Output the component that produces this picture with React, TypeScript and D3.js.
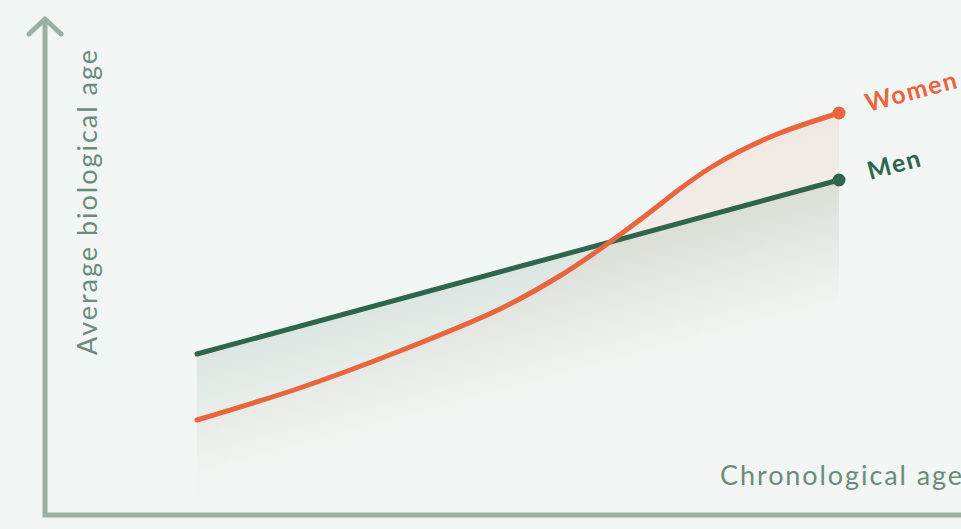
import React from "react";
import * as d3 from "d3";

const W = 961;
const H = 529;

// Chronological age (0-100 normalized) and average biological age (0-100 normalized)
const womenAge = [0, 16, 31.6, 47.2, 56.5, 62.8, 70.6, 75.2, 79.9, 84.6, 90.8, 100];
const womenBio = [19, 25.4, 32.8, 41.2, 47.8, 53.2, 60.6, 65.2, 69.4, 72.8, 76.4, 80.4];
const menAge = [0, 100];
const menBio = [32.2, 67];

const seriesLabels = ["Women", "Men"];
const axisLabels = ["Chronological age", "Average biological age"];

const ORANGE = "#e8663d";
const GREEN = "#2e654d";
const AXIS = "#9bb0a4";
const TEXT = "#6d8b7c";

export default function App() {
  const x = d3.scaleLinear().domain([0, 100]).range([197, 839]);
  const y = d3.scaleLinear().domain([0, 100]).range([515, 15]);

  const women = womenAge.map((a, i) => [a, womenBio[i]] as [number, number]);
  const men = menAge.map((a, i) => [a, menBio[i]] as [number, number]);

  const line = d3
    .line<[number, number]>()
    .x((d) => x(d[0]))
    .y((d) => y(d[1]))
    .curve(d3.curveCatmullRom.alpha(0.5));
  const area = d3
    .area<[number, number]>()
    .x((d) => x(d[0]))
    .y0(y(0))
    .y1((d) => y(d[1]))
    .curve(d3.curveCatmullRom.alpha(0.5));

  const wEnd = women[women.length - 1];
  const mEnd = men[men.length - 1];
  const font = "'Lato', 'Noto Sans', sans-serif";

  // gradient direction perpendicular to the men line
  const mx0 = x(men[0][0]), my0 = y(men[0][1]), mx1 = x(mEnd[0]), my1 = y(mEnd[1]);
  const len = Math.hypot(mx1 - mx0, my1 - my0);
  const nx = -(my1 - my0) / len, ny = (mx1 - mx0) / len; // points downward
  const cx = (mx0 + mx1) / 2, cy = (my0 + my1) / 2;
  const wx = x(wEnd[0]), wy = y(wEnd[1]);

  return (
    <svg width={W} height={H} style={{ position: "absolute", left: 0, top: 0, background: "#f1f5f3" }}>
      <defs>
        <linearGradient id="gw" gradientUnits="userSpaceOnUse" x1={wx} y1={wy} x2={wx + nx * 210} y2={wy + ny * 210}>
          <stop offset="0" stopColor={ORANGE} stopOpacity={0.1} />
          <stop offset="0.5" stopColor={ORANGE} stopOpacity={0.04} />
          <stop offset="1" stopColor={ORANGE} stopOpacity={0} />
        </linearGradient>
        <linearGradient id="gm" gradientUnits="userSpaceOnUse" x1={cx} y1={cy} x2={cx + nx * 115} y2={cy + ny * 115}>
          <stop offset="0" stopColor={GREEN} stopOpacity={0.11} />
          <stop offset="1" stopColor={GREEN} stopOpacity={0} />
        </linearGradient>
      </defs>
      <rect x={0} y={0} width={W} height={H} fill="#f1f5f3" />
      <path d={area(women) || ""} fill="url(#gw)" />
      <path d={area(men) || ""} fill="url(#gm)" />

      {/* axes */}
      <path d={`M45,${y(100) + 3} L45,${y(0)} L${W},${y(0)}`} fill="none" stroke={AXIS} strokeWidth={5} />
      <path d={`M29,34 L45,${y(100) + 4} L61,34`} fill="none" stroke={AXIS} strokeWidth={5} strokeLinecap="round" strokeLinejoin="round" />

      <path d={line(men) || ""} fill="none" stroke={GREEN} strokeWidth={5} strokeLinecap="round" />
      <path d={line(women) || ""} fill="none" stroke={ORANGE} strokeWidth={5} strokeLinecap="round" />
      <circle cx={x(wEnd[0])} cy={y(wEnd[1])} r={6.5} fill={ORANGE} />
      <circle cx={x(mEnd[0])} cy={y(mEnd[1])} r={6.5} fill={GREEN} />

      <text x={868} y={112} transform="rotate(-15 868 112)" fill={ORANGE} fontFamily={font} fontWeight={700} fontSize={25} letterSpacing={1.5}>
        {seriesLabels[0]}
      </text>
      <text x={870} y={180} transform="rotate(-15 870 180)" fill={GREEN} fontFamily={font} fontWeight={700} fontSize={25} letterSpacing={1.5}>
        {seriesLabels[1]}
      </text>

      <text x={720} y={485} fill={TEXT} fontFamily={font} fontSize={27} textLength={242} lengthAdjust="spacing">
        {axisLabels[0]}
      </text>
      <text x={0} y={0} transform="translate(97 355) rotate(-90)" fill={TEXT} fontFamily={font} fontSize={27} textLength={305} lengthAdjust="spacing">
        {axisLabels[1]}
      </text>
    </svg>
  );
}
